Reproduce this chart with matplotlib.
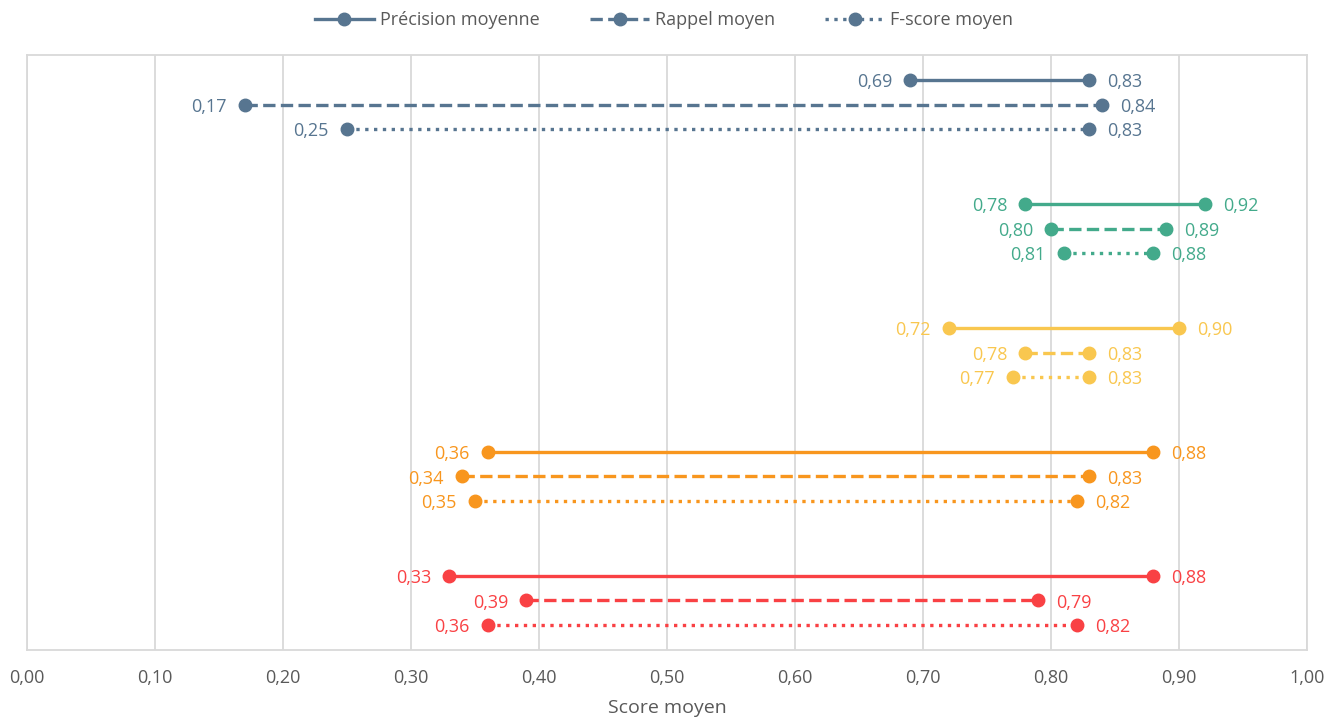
import numpy as np
import matplotlib.pyplot as plt

plt.rcParams['font.family'] = ['Open Sans', 'DejaVu Sans']

metrics = ['Précision moyenne', 'Rappel moyen', 'F-score moyen']
styles = ['-', '--', ':']
colors = ['#577590', '#43AA8B', '#F9C74F', '#F8961E', '#F94144']

# min / max per group (rows: groups, cols: precision, rappel, f-score)
low = [[0.69, 0.17, 0.25],
       [0.78, 0.80, 0.81],
       [0.72, 0.78, 0.77],
       [0.36, 0.34, 0.35],
       [0.33, 0.39, 0.36]]
high = [[0.83, 0.84, 0.83],
        [0.92, 0.89, 0.88],
        [0.90, 0.83, 0.83],
        [0.88, 0.83, 0.82],
        [0.88, 0.79, 0.82]]

fig = plt.figure(figsize=(13.28, 7.2), dpi=100)
ax = fig.add_axes([0.0203, 0.0972, 0.9639, 0.8264])

def fmt(v):
    return f'{v:.2f}'.replace('.', ',')

for g in range(len(low)):
    for m in range(3):
        y = 5 * g + m
        a, b = low[g][m], high[g][m]
        ax.plot([a, b], [y, y], linestyle=styles[m], color=colors[g], lw=2.4,
                marker='o', ms=9, zorder=3, dash_capstyle='butt')
        ax.annotate(fmt(a), (a, y), xytext=(-13, -1.5), textcoords='offset points',
                    ha='right', va='center', color=colors[g], fontsize=13)
        ax.annotate(fmt(b), (b, y), xytext=(13, -1.5), textcoords='offset points',
                    ha='left', va='center', color=colors[g], fontsize=13)

ax.set_xlim(0, 1)
ax.set_ylim(23, -1)
ax.set_xticks(np.arange(0, 1.01, 0.1))
ax.set_xticklabels([fmt(v) for v in np.arange(0, 1.01, 0.1)], color='#595959', fontsize=13)
ax.tick_params(axis='x', length=0, pad=14)
ax.set_yticks([])
ax.grid(axis='x', color='#D9D9D9', lw=1.3)
ax.set_axisbelow(True)
for s in ax.spines.values():
    s.set_color('#D9D9D9')
    s.set_linewidth(1.3)
ax.set_xlabel('Score moyen', color='#595959', fontsize=14, labelpad=8)

handles = [plt.Line2D([], [], color=colors[0], linestyle=styles[m], lw=2.4,
                      marker='o', ms=9) for m in range(3)]
fig.legend(handles, metrics, loc='center', bbox_to_anchor=(0.5, 0.972), ncol=3,
           frameon=False, fontsize=13, handlelength=3.3, columnspacing=2.8,
           handletextpad=0.3, labelcolor='#595959')

fig.savefig('out.png', dpi=100)
